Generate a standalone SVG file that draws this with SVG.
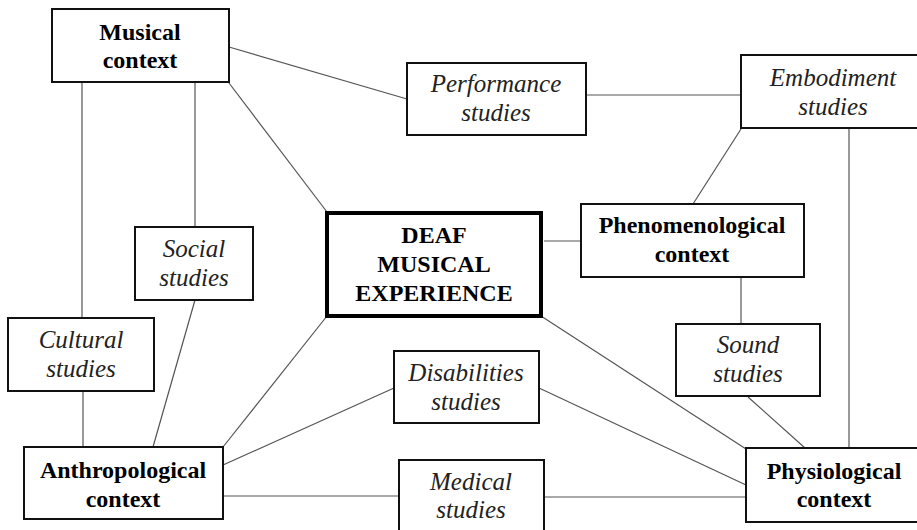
<svg xmlns="http://www.w3.org/2000/svg" width="917" height="530" viewBox="0 0 917 530">
<style>
.box{fill:#fff;stroke:#111;stroke-width:2}
.main{fill:#fff;stroke:#000;stroke-width:4}
.b{font-family:'Liberation Serif','Times New Roman','DejaVu Serif',serif;font-weight:bold;font-size:24px;fill:#000;text-anchor:middle}
.i{font-family:'Liberation Serif','Times New Roman','DejaVu Serif',serif;font-style:italic;font-size:25px;fill:#222;text-anchor:middle}
.c line{stroke:#555;stroke-width:1.2}
</style>
<rect width="917" height="530" fill="#fff"/>
<g class="c" id="connectors">
<line x1="229" y1="47" x2="407" y2="99"/>
<line x1="586" y1="95" x2="741" y2="95"/>
<line x1="229" y1="83" x2="327" y2="212"/>
<line x1="82" y1="82" x2="82" y2="318"/>
<line x1="195" y1="82" x2="195" y2="227"/>
<line x1="195" y1="300" x2="153" y2="447"/>
<line x1="83" y1="391" x2="83" y2="447"/>
<line x1="223" y1="447" x2="327" y2="316"/>
<line x1="223" y1="465" x2="394" y2="388"/>
<line x1="539" y1="388" x2="746" y2="485"/>
<line x1="223" y1="496" x2="399" y2="496"/>
<line x1="544" y1="497" x2="746" y2="497"/>
<line x1="541" y1="316" x2="746" y2="449"/>
<line x1="748" y1="397" x2="805" y2="448"/>
<line x1="544" y1="241" x2="581" y2="241"/>
<line x1="741" y1="277" x2="741" y2="324"/>
<line x1="741" y1="129" x2="693" y2="204"/>
<line x1="849" y1="128" x2="849" y2="448"/>
</g>
<g id="musical"><rect class="box" x="52" y="9" width="177" height="73"/><text class="b" x="140" y="40" font-family="Liberation Serif">Musical</text><text class="b" x="140" y="68">context</text></g>
<g id="performance"><rect class="box" x="407" y="63" width="179" height="72"/><text class="i" x="496" y="92">Performance</text><text class="i" x="496" y="121">studies</text></g>
<g id="embodiment"><rect class="box" x="741" y="55" width="184" height="73"/><text class="i" x="833" y="86">Embodiment</text><text class="i" x="833" y="115">studies</text></g>
<g id="social"><rect class="box" x="135" y="227" width="118" height="73"/><text class="i" x="194" y="257">Social</text><text class="i" x="194" y="286">studies</text></g>
<g id="cultural"><rect class="box" x="8" y="318" width="146" height="73"/><text class="i" x="81" y="348">Cultural</text><text class="i" x="81" y="377">studies</text></g>
<g id="deaf"><rect class="main" x="327" y="213" width="214" height="103"/><text class="b" x="434" y="243">DEAF</text><text class="b" x="434" y="272">MUSICAL</text><text class="b" x="434" y="301">EXPERIENCE</text></g>
<g id="phenomenological"><rect class="box" x="581" y="204" width="223" height="73"/><text class="b" x="692" y="233">Phenomenological</text><text class="b" x="692" y="262">context</text></g>
<g id="sound"><rect class="box" x="676" y="324" width="144" height="72"/><text class="i" x="748" y="353">Sound</text><text class="i" x="748" y="382">studies</text></g>
<g id="disabilities"><rect class="box" x="394" y="351" width="145" height="72"/><text class="i" x="466" y="381">Disabilities</text><text class="i" x="466" y="410">studies</text></g>
<g id="anthropological"><rect class="box" x="24" y="447" width="199" height="72"/><text class="b" x="123" y="478">Anthropological</text><text class="b" x="123" y="507">context</text></g>
<g id="medical"><rect class="box" x="399" y="460" width="145" height="80"/><text class="i" x="471" y="490">Medical</text><text class="i" x="471" y="518">studies</text></g>
<g id="physiological"><rect class="box" x="746" y="448" width="176" height="74"/><text class="b" x="834" y="479">Physiological</text><text class="b" x="834" y="507">context</text></g>
</svg>
